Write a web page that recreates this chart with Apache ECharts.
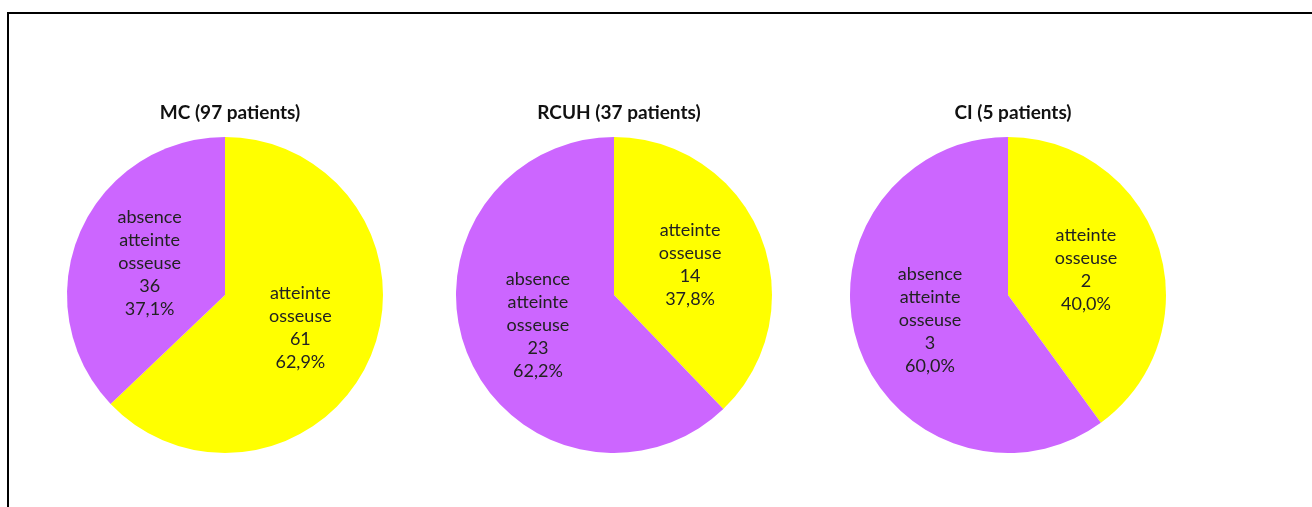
<!DOCTYPE html>
<html>
<head>
<meta charset="utf-8">
<script src="https://cdn.jsdelivr.net/npm/echarts@6/dist/echarts.min.js"></script>
<style>
  html, body { margin: 0; padding: 0; background: #fff; }
  #chart { width: 1312px; height: 507px; }
</style>
</head>
<body>
<div id="chart"></div>
<script>
// groups of patients, one pie each
const groups = ['MC (97 patients)', 'RCUH (37 patients)', 'CI (5 patients)'];
const categories = ['atteinte osseuse', 'absence atteinte osseuse'];
const atteinte = [61, 14, 2];
const absence = [36, 23, 3];
const colors = ['#ffff00', '#cc66ff'];

const centersX = [225, 614, 1008];
const centerY = 295;
const radius = 158;

const fmt = (p) => {
  const total = atteinte[p.seriesIndex] + absence[p.seriesIndex];
  const pct = (p.value / total * 100).toFixed(1).replace('.', ',');
  return p.name.split(' ').join('\n') + '\n' + p.value + '\n' + pct + '%';
};

const chart = echarts.init(document.getElementById('chart'));

chart.setOption({
  animation: false,
  title: groups.map((g, i) => ({
    text: g,
    left: centersX[i],
    top: 98,
    textAlign: 'center',
    textStyle: { fontFamily: 'Lato', fontWeight: 'bold', fontSize: 19, color: '#111' }
  })),
  graphic: [{
    type: 'polyline',
    shape: { points: [[8, 507], [8, 13], [1312, 13]] },
    style: { stroke: '#000', lineWidth: 2, fill: null }
  }],
  series: groups.map((g, i) => ({
    type: 'pie',
    center: [centersX[i], centerY],
    radius: radius,
    startAngle: 90,
    clockwise: true,
    silent: true,
    color: colors,
    label: {
      show: true,
      position: 'inside',
      formatter: fmt,
      fontFamily: 'Lato',
      fontSize: 18,
      lineHeight: 23,
      color: '#222'
    },
    labelLine: { show: false },
    itemStyle: { borderWidth: 0 },
    data: [
      { name: categories[0], value: atteinte[i] },
      { name: categories[1], value: absence[i] }
    ]
  }))
});
</script>
</body>
</html>
